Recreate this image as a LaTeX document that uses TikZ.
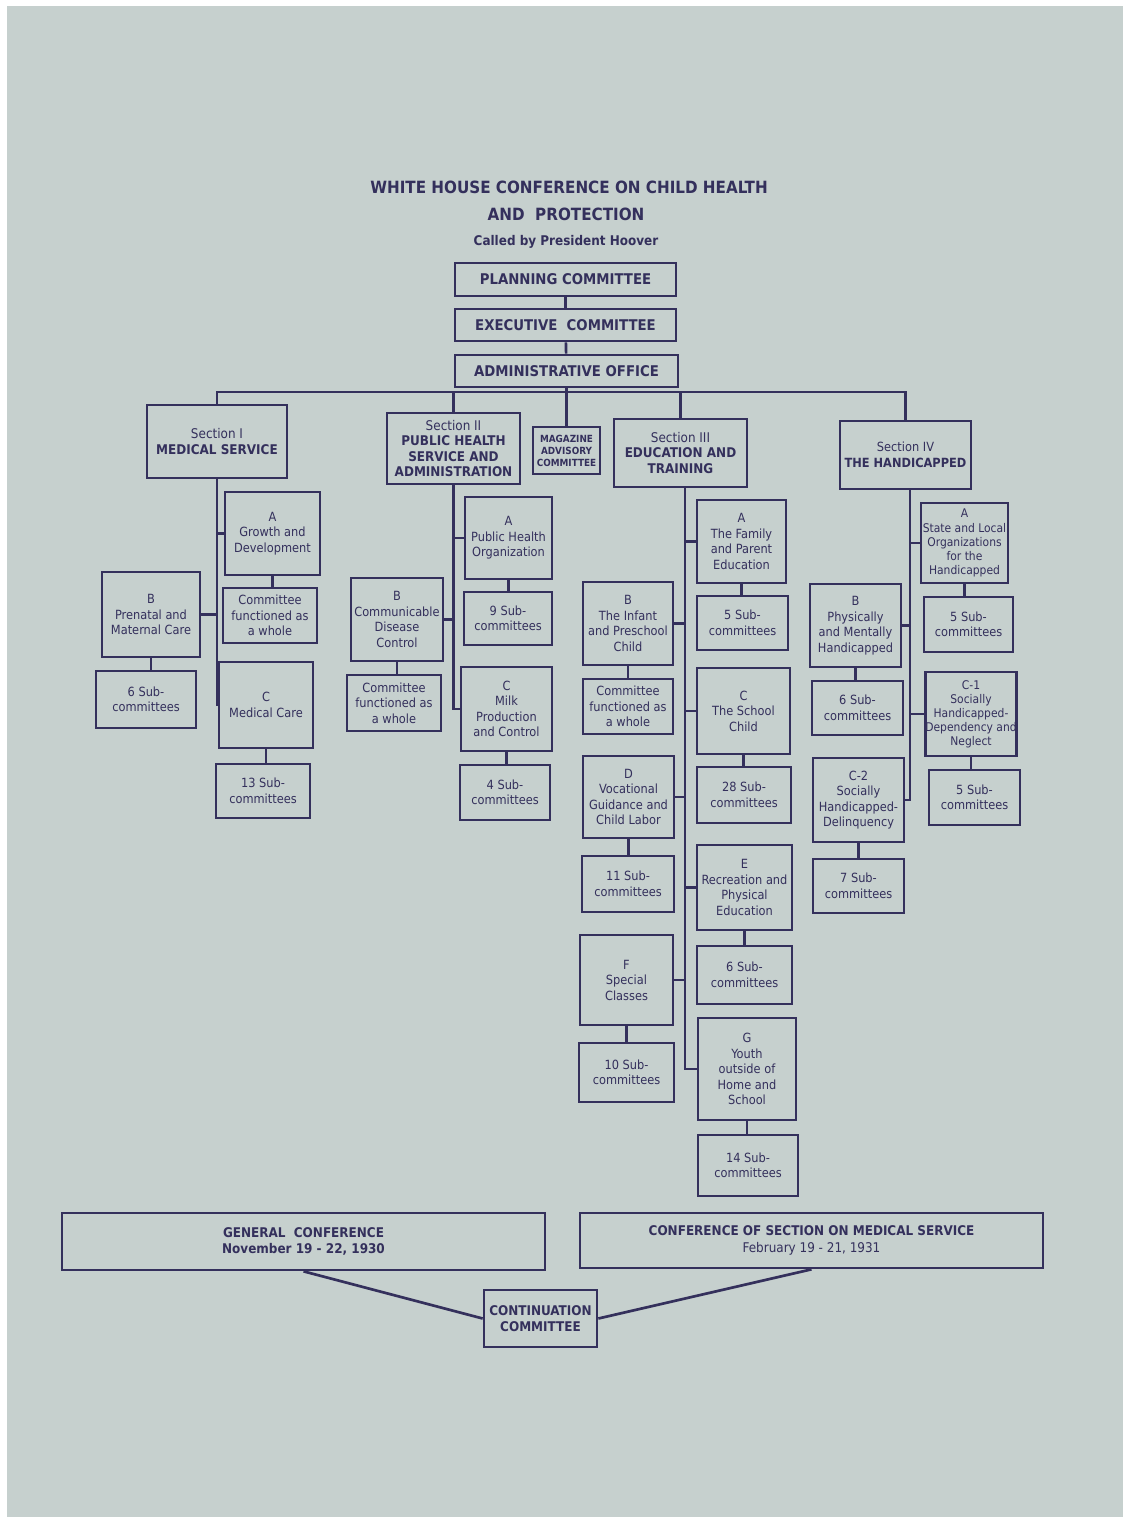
\documentclass[tikz,border=0pt]{standalone}
\usepackage{fontspec}
\setmainfont{DejaVu Sans Condensed}
\definecolor{paper}{RGB}{198,208,206}
\definecolor{ink}{RGB}{52,48,92}

\begin{document}
\begin{tikzpicture}[
    x=0.025cm, y=-0.025cm,
    every node/.style={text=ink},
    sz/.style 2 args={minimum width=#1*0.025cm, minimum height=#2*0.025cm},
    topbox/.style={draw=ink, line width=1.9pt, inner sep=0pt,
        font=\fontsize{10.5}{12}\selectfont\bfseries},
    secbox/.style={draw=ink, line width=1.9pt, inner sep=0pt, align=center,
        font=\fontsize{9.5}{11}\selectfont},
    unit/.style={draw=ink, line width=1.9pt, inner sep=0pt, align=center,
        font=\fontsize{9}{11}\selectfont},
    tight/.style={unit, font=\fontsize{8.5}{10}\selectfont},
    link/.style={draw=ink, line width=1.9pt}
]
    % page
    \fill[white] (0,0) rectangle (1123,1517);
    \fill[paper] (7,6) rectangle (1123,1517);
    \useasboundingbox (0,0) rectangle (1123,1517);

    % heading
    \node[font=\fontsize{12}{14}\selectfont\bfseries] (t1) at (569,187) {WHITE HOUSE CONFERENCE ON CHILD HEALTH};
    \node[font=\fontsize{12}{14}\selectfont\bfseries] (t2) at (566,214) {AND\ \ PROTECTION};
    \node[font=\fontsize{9.5}{11}\selectfont\bfseries] (t3) at (566,242) {Called by\ President Hoover};

    % top of the chart
    \node[topbox, sz={221}{33}] (plan) at (565.5,279.5) {PLANNING COMMITTEE};
    \node[topbox, sz={221}{32}] (exec) at (565.5,325) {EXECUTIVE\ \ COMMITTEE};
    \node[topbox, sz={223}{32}] (adm) at (566.5,371) {ADMINISTRATIVE OFFICE};

    % sections
    \node[secbox, sz={140}{73}] (s1) at (217,441.5) {Section I\\\textbf{MEDICAL SERVICE}};
    \node[secbox, sz={133}{71}] (s2) at (453.5,448.5) {Section II\\\textbf{PUBLIC HEALTH}\\\textbf{SERVICE AND}\\\textbf{ADMINISTRATION}};
    \node[secbox, sz={67}{47}, font=\fontsize{7}{8.5}\selectfont\bfseries] (mag) at (566.5,450.5) {MAGAZINE\\ADVISORY\\COMMITTEE};
    \node[secbox, sz={133}{68}] (s3) at (680.5,453) {Section III\\\textbf{EDUCATION AND}\\\textbf{TRAINING}};
    \node[secbox, sz={131}{68}, font=\fontsize{9}{11}\selectfont] (s4) at (905.5,455) {Section IV\\\textbf{THE HANDICAPPED}};

    \coordinate (bus) at (566.5,392);
    \draw[link] (plan) -- (exec);
    \draw[link] (exec) -- (adm);
    \draw[link] (adm) -- (mag);
    \draw[link] (s1.north) |- (bus) -| (s4.north);
    \draw[link] (s2.north) -- (s2.north |- bus);
    \draw[link] (s3.north) -- (s3.north |- bus);

    % Section I
    \node[unit, sz={95}{83}] (a1) at (272.5,533.5) {A\\Growth and\\Development};
    \node[unit, sz={94}{55}] (a1s) at (270,615.5) {Committee\\functioned as\\a whole};
    \node[unit, sz={98}{85}] (b1) at (151,614.5) {B\\Prenatal and\\Maternal Care};
    \node[unit, sz={100}{57}] (b1s) at (146,699.5) {6 Sub-\\committees};
    \node[unit, sz={94}{86}] (c1) at (266,705) {C\\Medical Care};
    \node[unit, sz={94}{54}] (c1s) at (263,791) {13 Sub-\\committees};

    \draw[link] (s1.south) -- (s1.south |- c1.west) -- (c1.west);
    \draw[link] (s1.south |- a1.west) -- (a1.west);
    \draw[link] (s1.south |- b1.east) -- (b1.east);
    \draw[link] (a1.south) -- (a1.south |- a1s.north);
    \draw[link] (b1.south) -- (b1.south |- b1s.north);
    \draw[link] (c1.south) -- (c1.south |- c1s.north);

    % Section II
    \node[unit, sz={87}{82}] (a2) at (508.5,538) {A\\Public Health\\Organization};
    \node[unit, sz={88}{53}] (a2s) at (508,618.5) {9 Sub-\\committees};
    \node[unit, sz={92}{83}] (b2) at (397,619.5) {B\\Communicable\\Disease\\Control};
    \node[unit, sz={94}{56}] (b2s) at (394,703) {Committee\\functioned as\\a whole};
    \node[unit, sz={91}{84}] (c2) at (506.5,709) {C\\Milk\\Production\\and Control};
    \node[unit, sz={90}{55}] (c2s) at (505,792.5) {4 Sub-\\committees};

    \draw[link] (s2.south) -- (s2.south |- c2.west) -- (c2.west);
    \draw[link] (s2.south |- a2.west) -- (a2.west);
    \draw[link] (s2.south |- b2.east) -- (b2.east);
    \draw[link] (a2.south) -- (a2.south |- a2s.north);
    \draw[link] (b2.south) -- (b2.south |- b2s.north);
    \draw[link] (c2.south) -- (c2.south |- c2s.north);

    % Section III
    \coordinate (t3top) at (685,487);
    \node[unit, sz={89}{83}] (a3) at (741.5,541.5) {A\\The Family\\and Parent\\Education};
    \node[unit, sz={91}{54}] (a3s) at (742.5,623) {5 Sub-\\committees};
    \node[unit, sz={90}{83}] (b3) at (628,623.5) {B\\The Infant\\and Preschool\\Child};
    \node[unit, sz={90}{55}] (b3s) at (628,706.5) {Committee\\functioned as\\a whole};
    \node[unit, sz={93}{86}] (c3) at (743.5,711) {C\\The School\\Child};
    \node[unit, sz={94}{56}] (c3s) at (744,795) {28 Sub-\\committees};
    \node[unit, sz={91}{82}] (d3) at (628.5,797) {D\\Vocational\\Guidance and\\Child Labor};
    \node[unit, sz={92}{56}] (d3s) at (628,884) {11 Sub-\\committees};
    \node[unit, sz={95}{85}] (e3) at (744.5,887.5) {E\\Recreation and\\Physical\\Education};
    \node[unit, sz={95}{58}] (e3s) at (744.5,975) {6 Sub-\\committees};
    \node[unit, sz={93}{90}] (f3) at (626.5,980) {F\\Special\\Classes};
    \node[unit, sz={95}{59}] (f3s) at (626.5,1072.5) {10 Sub-\\committees};
    \node[unit, sz={98}{102}] (g3) at (747,1069) {G\\Youth\\outside of\\Home and\\School};
    \node[unit, sz={100}{61}] (g3s) at (748,1165.5) {14 Sub-\\committees};

    \draw[link] (t3top) -- (t3top |- g3.west) -- (g3.west);
    \draw[link] (t3top |- a3.west) -- (a3.west);
    \draw[link] (t3top |- c3.west) -- (c3.west);
    \draw[link] (t3top |- e3.west) -- (e3.west);
    \draw[link] (t3top |- b3.east) -- (b3.east);
    \draw[link] (t3top |- d3.east) -- (d3.east);
    \draw[link] (t3top |- f3.east) -- (f3.east);
    \draw[link] (a3.south) -- (a3.south |- a3s.north);
    \draw[link] (b3.south) -- (b3.south |- b3s.north);
    \draw[link] (c3.south) -- (c3.south |- c3s.north);
    \draw[link] (d3.south) -- (d3.south |- d3s.north);
    \draw[link] (e3.south) -- (e3.south |- e3s.north);
    \draw[link] (f3.south) -- (f3.south |- f3s.north);
    \draw[link] (g3.south) -- (g3.south |- g3s.north);

    % Section IV
    \coordinate (t4top) at (910,489);
    \node[tight, sz={87}{80}] (a4) at (964.5,543) {A\\State and Local\\Organizations\\for the\\Handicapped};
    \node[unit, sz={89}{55}] (a4s) at (968.5,624.5) {5 Sub-\\committees};
    \node[unit, sz={91}{83}] (b4) at (855.5,625.5) {B\\Physically\\and Mentally\\Handicapped};
    \node[unit, sz={91}{54}] (b4s) at (857.5,708) {6 Sub-\\committees};
    \node[tight, sz={90}{84}] (c41) at (971,714) {C-1\\Socially\\Handicapped-\\Dependency and\\Neglect};
    \node[unit, sz={91}{55}] (c41s) at (974.5,797.5) {5 Sub-\\committees};
    \node[unit, sz={91}{84}] (c42) at (858.5,800) {C-2\\Socially\\Handicapped-\\Delinquency};
    \node[unit, sz={91}{54}] (c42s) at (858.5,886) {7 Sub-\\committees};

    \draw[link] (t4top) -- (t4top |- c42.east) -- (c42.east);
    \draw[link] (t4top |- a4.west) -- (a4.west);
    \draw[link] (t4top |- c41.west) -- (c41.west);
    \draw[link] (t4top |- b4.east) -- (b4.east);
    \draw[link] (a4.south) -- (a4.south |- a4s.north);
    \draw[link] (b4.south) -- (b4.south |- b4s.north);
    \draw[link] (c41.south) -- (c41.south |- c41s.north);
    \draw[link] (c42.south) -- (c42.south |- c42s.north);

    % conferences
    \node[unit, sz={483}{57}, font=\fontsize{9.5}{11.5}\selectfont\bfseries] (gen) at (303.5,1241.5)
        {GENERAL\ \ CONFERENCE\\November 19 - 22, 1930};
    \node[unit, sz={463}{55}, font=\fontsize{9.5}{11.5}\selectfont] (cms) at (811.5,1240.5)
        {\textbf{CONFERENCE OF SECTION ON MEDICAL SERVICE}\\February 19 - 21, 1931};
    \node[unit, sz={113}{57}, font=\fontsize{9.5}{11.5}\selectfont\bfseries] (cont) at (540.5,1318.5)
        {CONTINUATION\\COMMITTEE};
    \draw[link] (gen.south) -- (cont.west);
    \draw[link] (cms.south) -- (cont.east);
\end{tikzpicture}
\end{document}
